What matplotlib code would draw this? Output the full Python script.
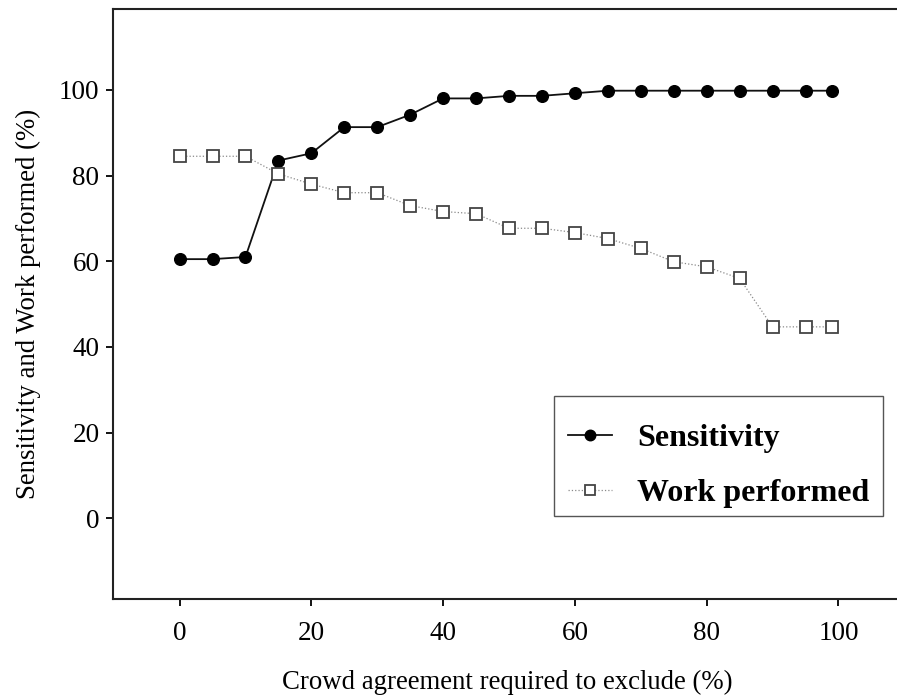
"""
Sensitivity and work performed vs crowd agreement threshold.
"""

import matplotlib
matplotlib.use('Agg')
import matplotlib.pyplot as plt
from matplotlib.patches import Rectangle

# Данные
agreement = [0, 5, 10, 15, 20, 25, 30, 35, 40, 45, 50, 55, 60, 65, 70, 75, 80, 85, 90, 95, 99]
sensitivity = [60.5, 60.5, 61.0, 83.5, 85.2, 91.3, 91.3, 94.2, 98.0, 98.0, 98.6, 98.6,
               99.2, 99.8, 99.8, 99.8, 99.8, 99.8, 99.8, 99.8, 99.8]
work_performed = [84.5, 84.5, 84.5, 80.4, 78.0, 76.0, 76.0, 73.0, 71.6, 71.1, 67.7, 67.7,
                  66.7, 65.3, 63.0, 59.9, 58.7, 56.0, 44.7, 44.7, 44.7]
ticks = [0, 20, 40, 60, 80, 100]

plt.rcParams['font.family'] = ['Liberation Serif', 'DejaVu Serif']

fig = plt.figure(figsize=(8.97, 6.97), dpi=100)
ax = fig.add_axes([0.1263, 0.1406, 0.8782, 0.8461])

ax.plot(agreement, sensitivity, color='#111111', linewidth=1.3, marker='o',
        markersize=8.4, markerfacecolor='black', markeredgecolor='black', label='Sensitivity')
ax.plot(agreement, work_performed, color='#8a8a8a', linewidth=0.9, linestyle=':',
        marker='s', markersize=8.5, markerfacecolor='white', markeredgecolor='#444444',
        markeredgewidth=1.3, label='Work performed')

ax.set_xlim(-10.06, 109.5)
ax.set_ylim(-18.8, 118.8)
ax.set_xticks(ticks)
ax.set_yticks(ticks)
ax.tick_params(axis='both', direction='out', length=5, width=1.3, labelsize=19.5, pad=5)
ax.tick_params(axis='x', pad=11)

for side in ['left', 'bottom', 'top', 'right']:
    ax.spines[side].set_linewidth(1.5)
    ax.spines[side].set_color('#222222')

ax.set_xlabel('Crowd agreement required to exclude (%)', fontsize=19.3, labelpad=17)
ax.set_ylabel('Sensitivity and Work performed (%)', fontsize=19.3, labelpad=13)

# легенда без рамки, рамка рисуется отдельно
leg = ax.legend(loc='upper left', bbox_to_anchor=(554 / 897, 1 - 409 / 697),
                bbox_transform=fig.transFigure, borderaxespad=0,
                prop={'weight': 'bold', 'size': 23}, frameon=False,
                handlelength=1.35, handletextpad=0.8, borderpad=0.45, labelspacing=0.82,
                markerscale=0.9)
box = Rectangle((554 / 897, 1 - 516 / 697), 329 / 897, 120 / 697, transform=fig.transFigure,
                fill=False, edgecolor='#555555', linewidth=1.0)
fig.patches.append(box)

fig.savefig('out.png', dpi=100)
